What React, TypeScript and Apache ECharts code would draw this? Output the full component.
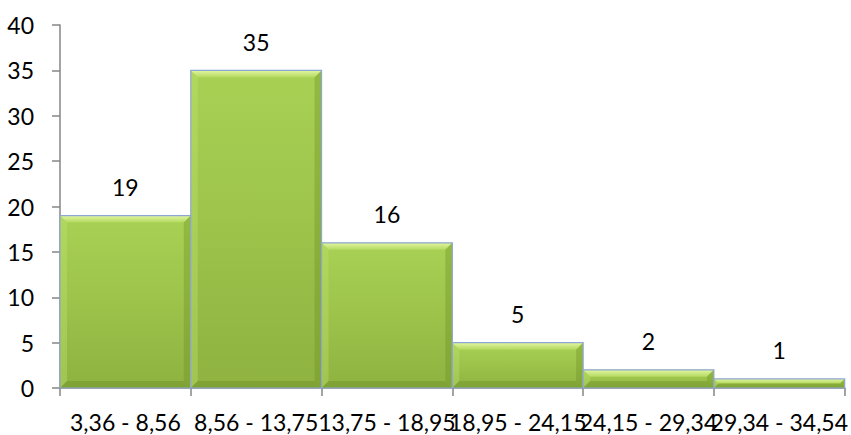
import React, { useEffect, useRef } from "react";
import * as echarts from "echarts";

// Histogram classes and their frequencies
const binLabels = [
  "3,36 - 8,56",
  "8,56 - 13,75",
  "13,75 - 18,95",
  "18,95 - 24,15",
  "24,15 - 29,34",
  "29,34 - 34,54",
];
const frequencies = [19, 35, 16, 5, 2, 1];

const yMin = 0;
const yMax = 40;
const yStep = 5;

const FONT_FAMILY = "Lato, 'Liberation Sans', sans-serif";
const FONT_SIZE = 23;
const AXIS_COLOR = "#868686";

export default function App() {
  const ref = useRef<HTMLDivElement>(null);

  useEffect(() => {
    if (!ref.current) return;
    const chart = echarts.init(ref.current, undefined, { renderer: "svg" });

    const bodyFill = new echarts.graphic.LinearGradient(0, 0, 0, 1, [
      { offset: 0, color: "#a8d154" },
      { offset: 0.5, color: "#9dc34b" },
      { offset: 1, color: "#8fb240" },
    ]);
    const topBevelFill = new echarts.graphic.LinearGradient(0, 0, 0, 1, [
      { offset: 0, color: "#e2f6a0" },
      { offset: 1, color: "#b3d960" },
    ]);

    chart.setOption({
      animation: false,
      grid: { left: 60, right: 6, top: 25, bottom: 47, containLabel: false },
      xAxis: {
        type: "category",
        data: binLabels,
        boundaryGap: true,
        axisLine: { show: true, lineStyle: { color: AXIS_COLOR, width: 1.5 } },
        axisTick: { show: true, length: 8, lineStyle: { color: AXIS_COLOR, width: 1.5 } },
        axisLabel: {
          interval: 0,
          margin: 22,
          color: "#000",
          fontFamily: FONT_FAMILY,
          fontSize: FONT_SIZE,
        },
        splitLine: { show: false },
      },
      yAxis: {
        type: "value",
        min: yMin,
        max: yMax,
        interval: yStep,
        axisLine: { show: true, lineStyle: { color: AXIS_COLOR, width: 1.5 } },
        axisTick: { show: true, length: 8, lineStyle: { color: AXIS_COLOR, width: 1.5 } },
        axisLabel: {
          margin: 26,
          color: "#000",
          fontFamily: FONT_FAMILY,
          fontSize: FONT_SIZE,
        },
        splitLine: { show: false },
      },
      series: [
        {
          type: "custom",
          data: frequencies.map((v, i) => [i, v]),
          encode: { x: 0, y: 1 },
          renderItem: (_params: any, api: any) => {
            const idx = api.value(0);
            const v = api.value(1);
            const top = api.coord([idx, v]);
            const base = api.coord([idx, 0]);
            const w = api.size([1, 0])[0];
            const x0 = top[0] - w / 2;
            const x1 = top[0] + w / 2;
            const y0 = top[1];
            const y1 = base[1];
            const h = y1 - y0;
            const b = Math.min(7, h / 2);
            return {
              type: "group",
              children: [
                {
                  type: "rect",
                  shape: { x: x0, y: y0, width: w, height: h },
                  style: { fill: bodyFill },
                },
                {
                  type: "polygon",
                  shape: {
                    points: [
                      [x0, y0],
                      [x1, y0],
                      [x1 - b, y0 + b],
                      [x0 + b, y0 + b],
                    ],
                  },
                  style: { fill: topBevelFill },
                },
                {
                  type: "polygon",
                  shape: {
                    points: [
                      [x0, y0],
                      [x0 + b, y0 + b],
                      [x0 + b, y1 - b],
                      [x0, y1],
                    ],
                  },
                  style: { fill: "rgba(190,225,110,0.4)" },
                },
                {
                  type: "polygon",
                  shape: {
                    points: [
                      [x1, y0],
                      [x1 - b, y0 + b],
                      [x1 - b, y1 - b],
                      [x1, y1],
                    ],
                  },
                  style: { fill: "rgba(105,140,35,0.35)" },
                },
                {
                  type: "polygon",
                  shape: {
                    points: [
                      [x0, y1],
                      [x0 + b, y1 - b],
                      [x1 - b, y1 - b],
                      [x1, y1],
                    ],
                  },
                  style: { fill: "rgba(95,130,30,0.32)" },
                },
                {
                  type: "rect",
                  shape: { x: x0, y: y0, width: w, height: h },
                  style: { fill: "none", stroke: "#8ea6d2", lineWidth: 1.2 },
                },
                {
                  type: "text",
                  style: {
                    text: String(v),
                    x: top[0],
                    y: y0 - 17,
                    align: "center",
                    verticalAlign: "bottom",
                    fontFamily: FONT_FAMILY,
                    fontSize: FONT_SIZE,
                    fill: "#000",
                  },
                },
              ],
            };
          },
        },
      ],
    });

    return () => chart.dispose();
  }, []);

  return (
    <div
      ref={ref}
      style={{ position: "fixed", left: 0, top: 0, width: 851, height: 435, background: "#fff" }}
    />
  );
}
